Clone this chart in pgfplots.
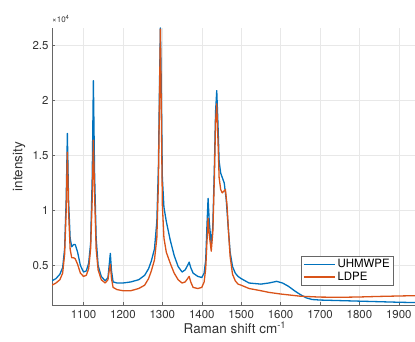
\documentclass[border=0pt]{standalone}
\usepackage{pgfplots}
\pgfplotsset{compat=1.18}
\usepackage{fontspec}
\setmainfont{TeX Gyre Heros}
\definecolor{mblue}{RGB}{0,114,189}
\definecolor{morange}{RGB}{217,83,25}
\begin{document}
\begin{tikzpicture}
\useasboundingbox (0,0) rectangle (415bp,342bp);
\begin{axis}[
  at={(52bp,37bp)}, anchor=south west,
  scale only axis, width=363bp, height=277bp,
  xmin=1020, xmax=1941, ymin=1400, ymax=26600,
  axis x line*=bottom, axis y line*=left,
  axis line style={-, gray!80!black, line width=0.6bp},
  xtick={1100,1200,1300,1400,1500,1600,1700,1800,1900},
  ytick={5000,10000,15000,20000,25000},
  yticklabels={0.5,1,1.5,2,2.5},
  scaled ticks=false,
  /pgf/number format/assume math mode=true,
  /pgf/number format/1000 sep={},
  tick align=inside, major tick length=3bp,
  tick style={gray!80!black, line width=0.5bp},
  ticklabel style={font=\fontsize{11.5}{12}\selectfont, text=black!80},
  xticklabel style={yshift=-2bp},
  grid=major, major grid style={gray!18, line width=0.5bp},
  xlabel={Raman shift cm\textsuperscript{-1}},
  ylabel={intensity},
  label style={font=\fontsize{13.5}{14}\selectfont, text=black!80},
  xlabel style={at={(axis description cs:0.504,-0.083)}, anchor=center},
  ylabel style={at={(axis description cs:-0.091,0.5)}, anchor=center, rotate=0},
  legend style={at={(0.942,0.072)}, anchor=south east, draw=gray!80!black, fill=white,
    font=\fontsize{11.5}{11.5}\selectfont, inner xsep=2bp, inner ysep=1bp, row sep=-1.5bp,
    line width=0.5bp},
  legend cell align=left,
  legend image code/.code={\draw[#1, line width=1.3bp] (0bp,0bp) -- (31bp,0bp);},
  clip=true, clip mode=individual,
]
\addplot[mblue, line width=1.3bp, line join=round] coordinates {
(1020,3600) (1030,3800) (1040,4200) (1047,4800) (1052,6500) (1056,11000) (1059,17000)
(1062,11000) (1066,7500) (1070,6700) (1075,6900) (1079,6900) (1085,6200) (1092,5000)
(1100,4400) (1107,4500) (1113,5200) (1118,7000) (1122,13000) (1125,21800) (1128,13500)
(1132,7500) (1137,5000) (1145,4000) (1155,3600) (1162,3900) (1165,5000) (1168,6100)
(1171,4500) (1175,3500) (1185,3400) (1200,3400) (1220,3500) (1240,3700) (1255,4100)
(1265,4700) (1272,5400) (1280,6500) (1286,9000) (1290,14000) (1293,22000) (1295,26600)
(1297,22000) (1300,13000) (1304,10300) (1310,9000) (1320,7300) (1330,5900) (1340,4900)
(1350,4400) (1358,4600) (1364,5000) (1368,5300) (1372,4800) (1378,4300) (1390,4000)
(1400,3900) (1406,4300) (1410,5500) (1413,8500) (1416,11100) (1419,9000) (1424,6900)
(1428,8500) (1432,14000) (1435,19000) (1438,20900) (1441,18000) (1444,14500) (1448,13400)
(1452,13000) (1457,12500) (1462,11000) (1467,8500) (1472,6200) (1478,4900) (1485,4300)
(1492,4000) (1500,3800) (1520,3400) (1550,3300) (1570,3400) (1590,3550) (1605,3400)
(1620,3100) (1635,2700) (1650,2350) (1665,2050) (1680,1900) (1700,1850) (1750,1800)
(1800,1750) (1850,1700) (1900,1650) (1941,1620)
};
\addlegendentry{UHMWPE}
\addplot[morange, line width=1.3bp, line join=round] coordinates {
(1020,3200) (1030,3400) (1040,3700) (1047,4300) (1052,6000) (1056,10000) (1059,15300)
(1062,10000) (1066,6500) (1070,5700) (1075,5700) (1079,5600) (1085,5100) (1092,4300)
(1100,4000) (1107,4100) (1113,4700) (1118,6500) (1122,11000) (1125,16400) (1128,11500)
(1132,6500) (1137,4600) (1145,3700) (1155,3400) (1162,3700) (1165,4500) (1168,5100)
(1171,3800) (1175,3000) (1185,2800) (1200,2700) (1220,2700) (1240,2900) (1255,3200)
(1265,3800) (1272,4500) (1280,5500) (1286,7500) (1290,12500) (1293,21000) (1295,26500)
(1297,20000) (1300,10500) (1304,7500) (1310,6200) (1320,5200) (1330,4300) (1340,3700)
(1350,3400) (1358,3500) (1364,3800) (1368,4000) (1372,3500) (1378,3000) (1390,2900)
(1400,3000) (1406,3500) (1410,4700) (1413,7000) (1416,9300) (1419,7800) (1424,6300)
(1428,8000) (1432,13000) (1435,18000) (1438,19700) (1441,16500) (1444,13000) (1448,11900)
(1452,11600) (1457,11800) (1460,11900) (1464,10500) (1468,8000) (1472,5800) (1478,4200)
(1485,3600) (1492,3300) (1500,3200) (1520,2900) (1550,2700) (1570,2550) (1600,2400)
(1650,2200) (1700,2120) (1750,2100) (1800,2130) (1850,2180) (1900,2220) (1941,2250)
};
\addlegendentry{LDPE}
\node[anchor=south west, inner sep=0pt, font=\fontsize{8}{8}\selectfont, text=black!80]
  at (axis description cs:0,1.018) {×10\textsuperscript{4}};
\end{axis}
\end{tikzpicture}
\end{document}
